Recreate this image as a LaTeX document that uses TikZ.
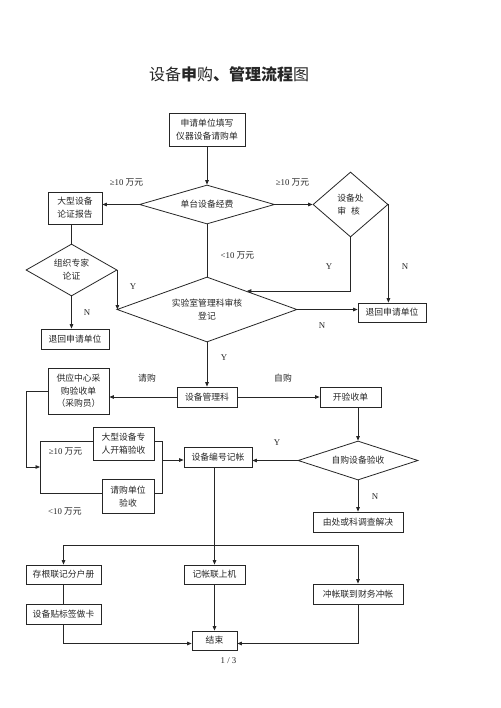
\documentclass[tikz,border=0pt]{standalone}
\usepackage{fontspec}
\setmainfont{Liberation Serif}
\newfontfamily\cjk{Noto Sans CJK SC}
\usetikzlibrary{arrows.meta,shapes.geometric,calc}
\tikzset{
  every path/.style={line width=0.8pt},
  box/.style={draw, line width=0.8pt, inner sep=0pt, align=center, text=black!85,
    font=\cjk\fontsize{8.8}{13}\selectfont},
  dia/.style={diamond, draw, line width=0.8pt, inner sep=0pt, align=center, text=black!85,
    font=\cjk\fontsize{8.8}{13}\selectfont},
  lbl/.style={inner sep=0pt, text=black!85, font=\fontsize{8.8}{10}\selectfont},
  arr/.style={-{Triangle[length=4.5pt,width=3.6pt]}},
}
\begin{document}
\begin{tikzpicture}[x=1pt,y=-1pt,color=black!85]
\fill[white] (0,0) rectangle (500,708);
\useasboundingbox (0,0) rectangle (500,708);

\node[inner sep=0pt, text=black!85] (title) at (229,74) {\cjk\fontsize{16}{16}\selectfont 设备{\bfseries 申}购{\bfseries 、管理流程}图};

\node[box, minimum width=76pt, minimum height=33pt] (b1) at (207,129.5) {申请单位填写\\仪器设备请购单};
\node[dia, shape aspect=3.4, minimum width=135pt, minimum height=39pt] (d1) at (207,204.5) {单台设备经费};
\node[dia, shape aspect=1, minimum width=75pt, minimum height=65pt, align=left] (d2) at (350.5,204.5) {设备处\\审\hspace{5pt}核};
\node[box, minimum width=54pt, minimum height=32pt] (bbig) at (75,208) {大型设备\\论证报告};
\node[dia, shape aspect=1.75, minimum width=91pt, minimum height=52pt] (d4) at (71.5,270) {组织专家\\论证};
\node[box, minimum width=68pt, minimum height=20pt] (br1) at (75,339) {退回申请单位};
\node[dia, shape aspect=2.8, minimum width=180pt, minimum height=65pt] (d3) at (207,309.5) {实验室管理科审核\\登记};
\node[box, minimum width=68pt, minimum height=19pt] (br2) at (392,312.5) {退回申请单位};
\node[box, minimum width=60pt, minimum height=20pt] (bmgr) at (207,397) {设备管理科};
\node[box, minimum width=61pt, minimum height=46pt, font=\cjk\fontsize{8.8}{12.5}\selectfont] (bsup) at (78.5,391) {供应中心采\\购验收单\\（采购员）};
\node[box, minimum width=61pt, minimum height=20pt] (bopen) at (350.5,397) {开验收单};
\node[dia, shape aspect=3, minimum width=120pt, minimum height=39pt] (d5) at (358,460.5) {自购设备验收};
\node[box, minimum width=68pt, minimum height=20pt] (bnum) at (218,457) {设备编号记帐};
\node[box, minimum width=90pt, minimum height=20pt] (bsolve) at (358,522) {由处或科调查解决};
\node[box, minimum width=61pt, minimum height=33pt] (bbig2) at (123.5,444) {大型设备专\\人开箱验收};
\node[box, minimum width=52pt, minimum height=34pt] (bunit) at (128,496.5) {请购单位\\验收};
\node[box, minimum width=75pt, minimum height=19pt] (bstub) at (63.5,574.5) {存根联记分户册};
\node[box, minimum width=75pt, minimum height=20pt] (blabel) at (63.5,614) {设备贴标签做卡};
\node[box, minimum width=61pt, minimum height=19pt] (bacc) at (214.5,574.5) {记帐联上机};
\node[box, minimum width=90pt, minimum height=20pt] (bfin) at (358,594) {冲帐联到财务冲帐};
\node[box, minimum width=45pt, minimum height=19pt] (bend) at (214.5,640.5) {结束};

% labels
\node[lbl] (l1) at (126.5,182) {≥10 {\cjk 万元}};
\node[lbl] (l2) at (292.5,182) {≥10 {\cjk 万元}};
\node[lbl] (l3) at (237.5,255) {<10 {\cjk 万元}};
\node[lbl] (l4) at (329,267) {Y};
\node[lbl] (l5) at (405,267) {N};
\node[lbl] (l6) at (133,287) {Y};
\node[lbl] (l7) at (87,313) {N};
\node[lbl] (l8) at (322,326) {N};
\node[lbl] (l9) at (224,358) {Y};
\node[lbl] (l10) at (147,378) {\cjk 请购};
\node[lbl] (l11) at (283,378) {\cjk 自购};
\node[lbl] (l12) at (277,443) {Y};
\node[lbl] (l13) at (375,497) {N};
\node[lbl] (l14) at (65.5,451) {≥10 {\cjk 万元}};
\node[lbl] (l15) at (65,511) {<10 {\cjk 万元}};
\node[lbl] (page) at (228.5,661) {1 / 3};

% connectors
\draw[arr] (b1.south) -- (d1.north);
\draw[arr] (d1.west) -- (d1.west -| bbig.east);
\draw[arr] (d1.east) -- (d2.west);
\draw (d4.north |- bbig.south) -- (d4.north);
\draw[arr] (d4.south) -- (d4.south |- br1.north);
\draw[arr] (d4.east) -- (d4.east |- d3.west);
\draw (d1.south) -- (d3.north);
\coordinate (d3ne) at ($(d3.north)!0.44!(d3.east)$);
\draw[arr] (d2.south) |- (d3ne);
\draw[arr] (d2.east) -- (d2.east |- br2.north);
\draw[arr] (d3.east) -- (d3.east -| br2.west);
\draw[arr] (d3.south) -- (bmgr.north);
\draw[arr] (bmgr.west) -- (bmgr.west -| bsup.east);
\draw[arr] (bmgr.east) -- (bopen.west);
\draw[arr] (d5.north |- bopen.south) -- (d5.north);
\draw[arr] (d5.west) -- (d5.west -| bnum.east);
\draw[arr] (d5.south) -- (bsolve.north);

\coordinate (lc) at (26,467);
\coordinate (lk) at (40,467);
\draw[arr] (bsup.west) -| (lc) -- (lk);
\coordinate (bl1) at (40,441);
\coordinate (bl2) at (40,493);
\coordinate (bq1) at (162,441);
\coordinate (bq2) at (162,493);
\coordinate (bmid) at (162,460);
\draw (bbig2.west |- bl1) -- (bl1) -- (bl2) -- (bunit.west |- bl2);
\draw (bbig2.east |- bq1) -- (bq1) -- (bq2) -- (bunit.east |- bq2);
\draw[arr] (bmid) -- (bmid -| bnum.west);

\coordinate (hl) at (63.5,545);
\coordinate (hr) at (358,545);
\draw (bacc.north |- bnum.south) -- (bacc.north |- hl);
\draw (hl) -- (hr);
\draw[arr] (hl) -- (bstub.north);
\draw[arr] (bacc.north |- hl) -- (bacc.north);
\draw[arr] (hr) -- (bfin.north);
\draw (bstub.south) -- (blabel.north);
\draw[arr] (bacc.south) -- (bend.north);
\draw[arr] (blabel.south) |- ([yshift=-3pt]bend.west);
\draw[arr] (bfin.south) |- ([yshift=-3pt]bend.east);
\end{tikzpicture}
\end{document}
